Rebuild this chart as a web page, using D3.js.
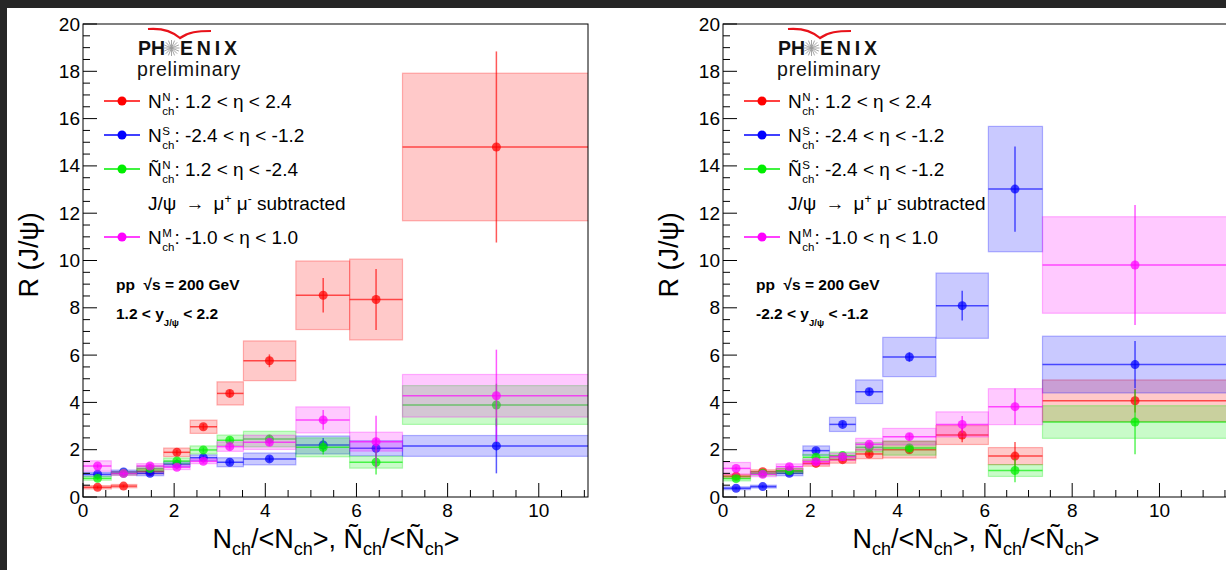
<!DOCTYPE html>
<html><head><meta charset="utf-8">
<script src="https://cdn.jsdelivr.net/npm/d3@7"></script>
<style>body{margin:0;padding:0;background:#262626;overflow:hidden}svg{display:block}</style>
</head><body>
<svg id="c" width="1226" height="570"></svg>
<script>
// ---------------- DATA ----------------
// Left panel (forward J/psi, 1.2 < y < 2.2)
const leftBinCenter = [0.32, 0.89, 1.47, 2.06, 2.64, 3.22, 4.09, 5.27, 6.43, 9.07];
const leftBinLo     = [0, 0.62, 1.18, 1.77, 2.35, 2.94, 3.52, 4.67, 5.85, 7.01];
const leftBinHi     = [0.62, 1.18, 1.77, 2.35, 2.94, 3.52, 4.67, 5.85, 7.01, 11.5];
const leftRed      = [0.41, 0.46, 1.08, 1.89, 2.97, 4.38, 5.76, 8.53, 8.35, 14.8];
const leftRedStat  = [0.05, 0.05, 0.08, 0.10, 0.12, 0.15, 0.27, 0.73, 1.29, 4.04];
const leftRedSys   = [0.07, 0.07, 0.10, 0.18, 0.28, 0.49, 0.84, 1.45, 1.71, 3.12];
const leftBlue     = [0.96, 1.06, 1.00, 1.39, 1.66, 1.47, 1.61, 2.20, 2.06, 2.16];
const leftBlueStat = [0.06, 0.07, 0.07, 0.08, 0.10, 0.10, 0.12, 0.30, 0.40, 1.16];
const leftBlueSys  = [0.08, 0.08, 0.10, 0.10, 0.12, 0.19, 0.25, 0.38, 0.32, 0.44];
const leftGreen     = [0.79, 1.00, 1.20, 1.52, 1.99, 2.40, 2.45, 2.10, 1.47, 3.89];
const leftGreenStat = [0.06, 0.07, 0.08, 0.10, 0.10, 0.12, 0.18, 0.30, 0.52, 0.90];
const leftGreenSys  = [0.08, 0.08, 0.10, 0.13, 0.17, 0.22, 0.33, 0.40, 0.25, 0.82];
const leftMag      = [1.31, 0.99, 1.31, 1.26, 1.51, 2.13, 2.31, 3.26, 2.34, 4.28];
const leftMagStat  = [0.08, 0.06, 0.07, 0.08, 0.08, 0.12, 0.15, 0.42, 1.10, 1.95];
const leftMagSys   = [0.22, 0.08, 0.10, 0.10, 0.10, 0.20, 0.30, 0.55, 0.40, 0.90];

// Right panel (backward J/psi, -2.2 < y < -1.2)
const rightBinCenter = [0.30, 0.91, 1.52, 2.13, 2.74, 3.35, 4.27, 5.48, 6.69, 9.44];
const rightBinLo     = [0, 0.63, 1.22, 1.83, 2.44, 3.04, 3.66, 4.88, 6.08, 7.32];
const rightBinHi     = [0.63, 1.22, 1.83, 2.44, 3.04, 3.66, 4.88, 6.08, 7.32, 12.0];
const rightRed      = [0.88, 1.07, 1.10, 1.42, 1.58, 1.82, 2.00, 2.62, 1.73, 4.07];
const rightRedStat  = [0.06, 0.07, 0.07, 0.08, 0.10, 0.10, 0.15, 0.30, 0.60, 0.50];
const rightRedSys   = [0.08, 0.08, 0.10, 0.12, 0.15, 0.20, 0.35, 0.40, 0.36, 0.88];
const rightBlue     = [0.37, 0.44, 1.00, 1.96, 3.07, 4.45, 5.92, 8.09, 13.02, 5.60];
const rightBlueStat = [0.04, 0.05, 0.06, 0.10, 0.12, 0.15, 0.20, 0.63, 1.80, 1.00];
const rightBlueSys  = [0.06, 0.06, 0.10, 0.20, 0.30, 0.50, 0.83, 1.38, 2.65, 1.20];
const rightGreen     = [0.78, 1.00, 1.11, 1.68, 1.75, 2.10, 2.07, null, 1.12, 3.17];
const rightGreenStat = [0.06, 0.06, 0.07, 0.08, 0.10, 0.12, 0.15, null, 0.50, 1.36];
const rightGreenSys  = [0.10, 0.08, 0.10, 0.12, 0.15, 0.20, 0.30, null, 0.25, 0.69];
const rightMag      = [1.21, 0.96, 1.28, 1.49, 1.70, 2.23, 2.55, 3.07, 3.82, 9.81];
const rightMagStat  = [0.07, 0.06, 0.08, 0.08, 0.10, 0.12, 0.15, 0.35, 0.77, 2.54];
const rightMagSys   = [0.25, 0.10, 0.12, 0.12, 0.15, 0.25, 0.35, 0.53, 0.76, 2.04];

const yTicks = [0, 2, 4, 6, 8, 10, 12, 14, 16, 18, 20];
const xTicks = [0, 2, 4, 6, 8, 10];
const seriesColors = ["#ff0000", "#0000ff", "#00ee00", "#ff00ff"];
const leftLegend = [
  {base: "N", sup: "N", rest: ": 1.2 < η < 2.4"},
  {base: "N", sup: "S", rest: ": -2.4 < η < -1.2"},
  {base: "Ñ", sup: "N", rest: ": 1.2 < η < -2.4"},
  {base: "N", sup: "M", rest: ": -1.0 < η < 1.0"}
];
const rightLegend = [
  {base: "N", sup: "N", rest: ": 1.2 < η < 2.4"},
  {base: "N", sup: "S", rest: ": -2.4 < η < -1.2"},
  {base: "Ñ", sup: "S", rest: ": -2.4 < η < -1.2"},
  {base: "N", sup: "M", rest: ": -1.0 < η < 1.0"}
];
const leftRapidity = ["1.2 < y", " < 2.2"];
const rightRapidity = ["-2.2 < y", " < -1.2"];

// ---------------- DRAW ----------------
const FONT = "'Liberation Sans', Arial, Helvetica, sans-serif";
const svg = d3.select("#c");
svg.append("rect").attr("x", 7).attr("y", 8).attr("width", 1226).attr("height", 570).attr("fill", "#ffffff");

function drawPanel(ox, xmax, bins, series, legend, rap) {
  const top = 24, bottom = 497, w = 505;
  const x = d3.scaleLinear().domain([0, xmax]).range([ox, ox + w]);
  const y = d3.scaleLinear().domain([0, 20]).range([bottom, top]);
  const g = svg.append("g");
  const clipId = "clip" + ox;
  g.append("clipPath").attr("id", clipId).append("rect")
    .attr("x", ox).attr("y", top).attr("width", w).attr("height", bottom - top);
  const dg = g.append("g").attr("clip-path", `url(#${clipId})`);

  series.forEach((s, si) => {
    const col = seriesColors[si];
    const sg = dg.append("g");
    const idx = d3.range(s.v.length).filter(i => s.v[i] !== null);
    sg.selectAll("rect.sys").data(idx).join("rect")
      .attr("x", i => x(bins.lo[i])).attr("width", i => x(bins.hi[i]) - x(bins.lo[i]))
      .attr("y", i => y(s.v[i] + s.sys[i])).attr("height", i => y(s.v[i] - s.sys[i]) - y(s.v[i] + s.sys[i]))
      .attr("fill", col).attr("fill-opacity", 0.21)
      .attr("stroke", col).attr("stroke-opacity", 0.28).attr("stroke-width", 1.2);
    sg.selectAll("line.h").data(idx).join("line")
      .attr("x1", i => x(bins.lo[i])).attr("x2", i => x(bins.hi[i]))
      .attr("y1", i => y(s.v[i])).attr("y2", i => y(s.v[i]))
      .attr("stroke", col).attr("stroke-opacity", 0.65).attr("stroke-width", 1.5);
    sg.selectAll("line.v").data(idx).join("line")
      .attr("x1", i => x(bins.c[i])).attr("x2", i => x(bins.c[i]))
      .attr("y1", i => y(s.v[i] + s.stat[i])).attr("y2", i => y(s.v[i] - s.stat[i]))
      .attr("stroke", col).attr("stroke-opacity", 0.65).attr("stroke-width", 1.5);
    sg.selectAll("circle").data(idx).join("circle")
      .attr("cx", i => x(bins.c[i])).attr("cy", i => y(s.v[i])).attr("r", 4.5)
      .attr("fill", col).attr("fill-opacity", 0.72);
  });

  // frame
  g.append("rect").attr("x", ox).attr("y", top).attr("width", w).attr("height", bottom - top)
    .attr("fill", "none").attr("stroke", "#000").attr("stroke-width", 1);

  // y ticks
  const yMinor = d3.range(0, 20.01, 0.5);
  g.selectAll("line.ymin").data(yMinor).join("line")
    .attr("x1", ox).attr("x2", d => ox + (d % 2 === 0 ? 14 : 7))
    .attr("y1", d => y(d)).attr("y2", d => y(d)).attr("stroke", "#000").attr("stroke-width", 1);
  g.selectAll("text.yl").data(yTicks).join("text")
    .attr("x", ox - 3).attr("y", d => y(d) + 6.5).attr("text-anchor", "end")
    .attr("font-family", FONT).attr("font-size", 19).attr("fill", "#000").text(d => d);

  // x ticks
  const xMinor = d3.range(0, xmax, 0.5);
  g.selectAll("line.xmin").data(xMinor).join("line")
    .attr("x1", d => x(d)).attr("x2", d => x(d))
    .attr("y1", bottom).attr("y2", d => bottom - (d % 2 === 0 ? 14 : 7))
    .attr("stroke", "#000").attr("stroke-width", 1);
  g.selectAll("text.xl").data(xTicks).join("text")
    .attr("x", d => x(d)).attr("y", bottom + 20).attr("text-anchor", "middle")
    .attr("font-family", FONT).attr("font-size", 19).attr("fill", "#000").text(d => d);

  // y title
  g.append("text").attr("transform", `translate(${ox - 45},255) rotate(-90)`)
    .attr("text-anchor", "middle").attr("font-family", FONT).attr("font-size", 27).attr("fill", "#000")
    .text("R (J/ψ)");

  // x title
  const xt = g.append("text").attr("x", ox + 253).attr("y", 548).attr("text-anchor", "middle")
    .attr("font-family", FONT).attr("font-size", 27).attr("fill", "#000");
  const parts = [["N", 0], ["ch", 1], ["/<N", -1], ["ch", 1], [">, Ñ", -1], ["ch", 1], ["/<Ñ", -1], ["ch", 1], [">", -1]];
  parts.forEach(([t, s]) => {
    const ts = xt.append("tspan").text(t);
    if (s === 1) ts.attr("dy", 7).attr("font-size", 18);
    else if (s === -1) ts.attr("dy", -7).attr("font-size", 27);
  });

  // PHENIX logo
  const lx = ox + 55;
  g.append("path")
    .attr("d", `M${lx + 10},${29} C${lx + 22},${28} ${lx + 34},${31} ${lx + 42},${38} C${lx + 50},${32} ${lx + 60},${31} ${lx + 73},${31}`)
    .attr("fill", "none").attr("stroke", "#e8121a").attr("stroke-width", 2.2);
  g.append("text").attr("x", lx).attr("y", 54.5).attr("font-family", FONT).attr("font-weight", "bold")
    .attr("font-size", 19.5).attr("fill", "#111").text("PH");
  g.append("text").attr("x", lx + 42).attr("y", 54.5).attr("font-family", FONT).attr("font-weight", "bold")
    .attr("font-size", 19.5).attr("letter-spacing", 3.8).attr("fill", "#111").text("ENIX");
  const sc = [lx + 33.5, 48];
  d3.range(0, 180, 22.5).forEach(a => {
    const r = a * Math.PI / 180;
    g.append("line").attr("x1", sc[0] - 8 * Math.cos(r)).attr("y1", sc[1] - 8 * Math.sin(r))
      .attr("x2", sc[0] + 8 * Math.cos(r)).attr("y2", sc[1] + 8 * Math.sin(r))
      .attr("stroke", "#999").attr("stroke-width", 0.9);
  });
  g.append("text").attr("x", lx - 1).attr("y", 75.5).attr("font-family", FONT)
    .attr("font-size", 19.5).attr("letter-spacing", 0.8).attr("fill", "#111").text("preliminary");

  // legend
  const legX = ox + 21, txX = ox + 65;
  const rows = [101, 135, 169, 237];
  legend.forEach((L, i) => {
    const col = seriesColors[i];
    const yy = rows[i];
    g.append("line").attr("x1", legX).attr("x2", legX + 36).attr("y1", yy).attr("y2", yy)
      .attr("stroke", col).attr("stroke-width", 1.5);
    g.append("circle").attr("cx", legX + 18).attr("cy", yy).attr("r", 4.5).attr("fill", col);
    const by = yy + 7;
    const t1 = g.append("text").attr("x", txX).attr("y", by).attr("font-family", FONT)
      .attr("font-size", 19).attr("fill", "#000").text(L.base);
    const wb = t1.node().getComputedTextLength();
    const sx = txX + wb + 0.5;
    const t2 = g.append("text").attr("x", sx).attr("y", by - 7).attr("font-family", FONT)
      .attr("font-size", 11.5).attr("fill", "#000").text(L.sup);
    const t3 = g.append("text").attr("x", sx).attr("y", by + 7).attr("font-family", FONT)
      .attr("font-size", 11.5).attr("fill", "#000").text("ch");
    const ws = Math.max(t2.node().getComputedTextLength(), t3.node().getComputedTextLength());
    g.append("text").attr("x", sx + ws).attr("y", by).attr("font-family", FONT)
      .attr("font-size", 19).attr("fill", "#000").attr("xml:space", "preserve").text(L.rest);
  });
  const jt = g.append("text").attr("x", txX).attr("y", 210).attr("font-family", FONT)
    .attr("font-size", 19).attr("fill", "#000").attr("xml:space", "preserve");
  jt.append("tspan").text("J/ψ\u2009 → \u2009μ");
  jt.append("tspan").attr("dy", -7).attr("font-size", 12).text("+");
  jt.append("tspan").attr("dy", 7).text(" μ");
  jt.append("tspan").attr("dy", -7).attr("font-size", 12).text("-");
  jt.append("tspan").attr("dy", 7).text(" subtracted");

  g.append("text").attr("x", ox + 33).attr("y", 290).attr("font-family", FONT).attr("font-weight", "bold")
    .attr("font-size", 15.5).attr("fill", "#000").attr("xml:space", "preserve").text("pp  √s = 200 GeV");
  const rt = g.append("text").attr("x", ox + 33).attr("y", 319).attr("font-family", FONT).attr("font-weight", "bold")
    .attr("font-size", 15.5).attr("fill", "#000").attr("xml:space", "preserve");
  rt.append("tspan").text(rap[0]);
  rt.append("tspan").attr("dy", 7).attr("font-size", 9.5).text("J/ψ");
  rt.append("tspan").attr("dy", -7).text(rap[1]);
}

drawPanel(83, 11.08,
  {c: leftBinCenter, lo: leftBinLo, hi: leftBinHi},
  [{v: leftRed, stat: leftRedStat, sys: leftRedSys},
   {v: leftBlue, stat: leftBlueStat, sys: leftBlueSys},
   {v: leftGreen, stat: leftGreenStat, sys: leftGreenSys},
   {v: leftMag, stat: leftMagStat, sys: leftMagSys}],
  leftLegend, leftRapidity);

drawPanel(723, 11.57,
  {c: rightBinCenter, lo: rightBinLo, hi: rightBinHi},
  [{v: rightRed, stat: rightRedStat, sys: rightRedSys},
   {v: rightBlue, stat: rightBlueStat, sys: rightBlueSys},
   {v: rightGreen, stat: rightGreenStat, sys: rightGreenSys},
   {v: rightMag, stat: rightMagStat, sys: rightMagSys}],
  rightLegend, rightRapidity);
</script>
</body></html>
